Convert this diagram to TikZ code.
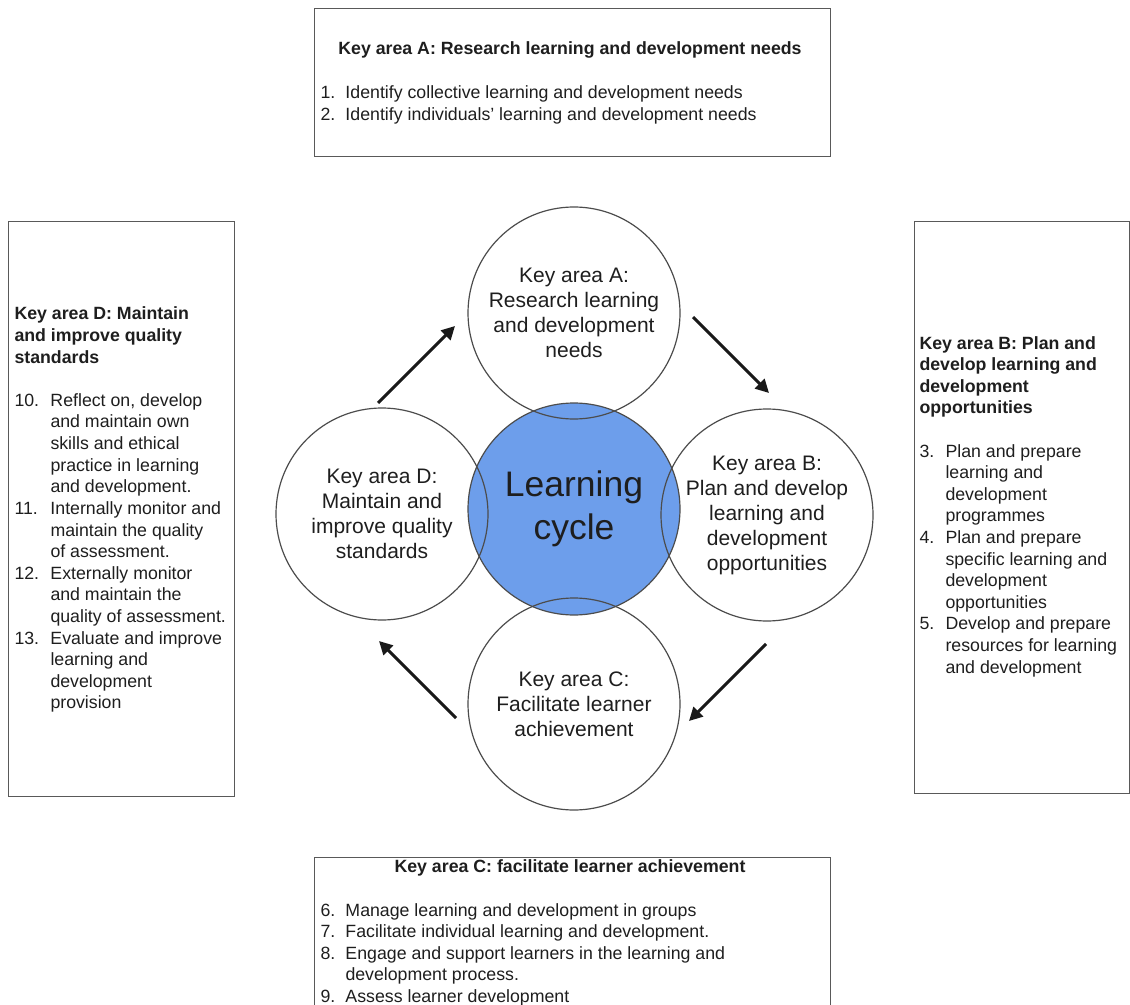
\documentclass[tikz,border=0pt]{standalone}
\usepackage{fontspec}
\setmainfont{Liberation Sans}
\usetikzlibrary{arrows.meta}
\definecolor{cycleblue}{HTML}{6D9EEB}
\definecolor{inkgray}{HTML}{1E1E1E}
\newcommand{\ktitle}[1]{\multicolumn{2}{@{}l@{}}{\bfseries #1}}
\tikzset{every picture/.style={line width=0.75pt}}
\tikzset{
  keybox/.style={draw=black!65, line width=0.75pt, inner sep=0pt},
  keytext/.style={inner sep=0pt, text=inkgray, font=\fontsize{13.3}{16.2}\selectfont},
  keycircle/.style={circle, draw=black!70, line width=0.9pt, minimum size=159pt, inner sep=0pt, align=center, text=inkgray, font=\fontsize{15.75}{18.75}\selectfont},
  cyclecircle/.style={keycircle, fill=cycleblue, font=\fontsize{26.6}{32.25}\selectfont},
  cyclearrow/.style={line width=2.25pt, black!90, -{Triangle[length=10pt,width=10pt]}}
}
\begin{document}
\begin{tikzpicture}[x=0.75pt,y=0.75pt,yscale=-1,xscale=1]
\useasboundingbox (0,0) rectangle (1130,1005);

%Shape: Rectangle [key area A box]
\node[keybox, minimum width=387pt, minimum height=111pt] (boxA) at (572,83) {};
%Shape: Rectangle [key area D box]
\node[keybox, minimum width=169.5pt, minimum height=430.5pt] (boxD) at (121,509) {};
%Shape: Rectangle [key area B box]
\node[keybox, minimum width=161.25pt, minimum height=428.25pt] (boxB) at (1021.5,507.5) {};
%Shape: Rectangle [key area C box]
\node[keybox, minimum width=387pt, minimum height=118.5pt] (boxC) at (572,936) {};

%Shape: Circle [learning cycle]
\node[cyclecircle] (cycle) at (574,509) {Learning\\cycle};
%Shape: Circle [key area A]
\node[keycircle] (circA) at (574,313) {Key area A:\\Research learning\\and development\\needs};
%Shape: Circle [key area B]
\node[keycircle] (circB) at (767,515) {Key area B:\\Plan and develop\\learning and\\development\\opportunities};
%Shape: Circle [key area C]
\node[keycircle] (circC) at (574,704) {Key area C:\\Facilitate learner\\achievement};
%Shape: Circle [key area D]
\node[keycircle] (circD) at (382,514) {Key area D:\\Maintain and\\improve quality\\standards};

%Straight Lines [D to A]
\coordinate (dA0) at (378,403);
\coordinate (dA1) at (455,326);
\draw[cyclearrow] (dA0) -- (dA1);
%Straight Lines [A to B]
\coordinate (aB0) at (693,317);
\coordinate (aB1) at (769,393);
\draw[cyclearrow] (aB0) -- (aB1);
%Straight Lines [B to C]
\coordinate (bC0) at (766,644);
\coordinate (bC1) at (689,721);
\draw[cyclearrow] (bC0) -- (bC1);
%Straight Lines [C to D]
\coordinate (cD0) at (456,718);
\coordinate (cD1) at (379,641);
\draw[cyclearrow] (cD0) -- (cD1);

% Text Node
\node[keytext, anchor=base] (titleA) at (570,55) {\bfseries Key area A: Research learning and development needs};
% Text Node
\node[keytext, anchor=base west] (listA) at (320,99) {\begin{tabular}[t]{@{}p{18.75pt}@{}l@{}}
1. & Identify collective learning and development needs\\
2. & Identify individuals' learning and development needs
\end{tabular}};
% Text Node
\node[keytext, anchor=base west] (listD) at (14,320) {\begin{tabular}[t]{@{}p{27pt}@{}l@{}}
\ktitle{Key area D: Maintain}\\
\ktitle{and improve quality}\\
\ktitle{standards}\\
& \\
10. & Reflect on, develop\\
    & and maintain own\\
    & skills and ethical\\
    & practice in learning\\
    & and development.\\
11. & Internally monitor and\\
    & maintain the quality\\
    & of assessment.\\
12. & Externally monitor\\
    & and maintain the\\
    & quality of assessment.\\
13. & Evaluate and improve\\
    & learning and\\
    & development\\
    & provision
\end{tabular}};
% Text Node
\node[keytext, anchor=base west] (listB) at (919,349) {\begin{tabular}[t]{@{}p{19.5pt}@{}l@{}}
\ktitle{Key area B: Plan and}\\
\ktitle{develop learning and}\\
\ktitle{development}\\
\ktitle{opportunities}\\
& \\
3. & Plan and prepare\\
   & learning and\\
   & development\\
   & programmes\\
4. & Plan and prepare\\
   & specific learning and\\
   & development\\
   & opportunities\\
5. & Develop and prepare\\
   & resources for learning\\
   & and development
\end{tabular}};
% Text Node
\node[keytext, anchor=base] (titleC) at (570,872) {\bfseries Key area C: facilitate learner achievement};
% Text Node
\node[keytext, anchor=base west] (listC) at (320,916) {\begin{tabular}[t]{@{}p{18.75pt}@{}l@{}}
6. & Manage learning and development in groups\\
7. & Facilitate individual learning and development.\\
8. & Engage and support learners in the learning and\\
   & development process.\\
9. & Assess learner development
\end{tabular}};

\end{tikzpicture}
\end{document}
